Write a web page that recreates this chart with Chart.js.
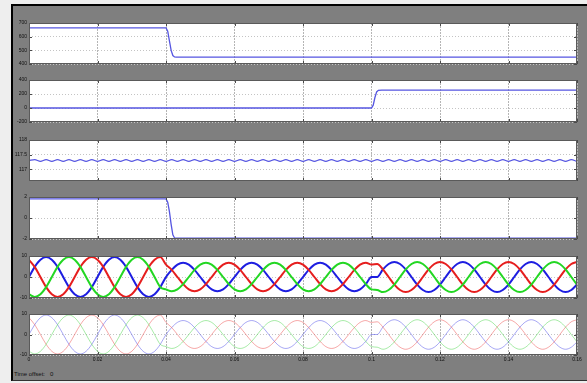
<!DOCTYPE html>
<html>
<head>
<meta charset="utf-8">
<script src="https://cdn.jsdelivr.net/npm/chart.js@4"></script>
<style>
  body { margin: 0; width: 587px; height: 383px; background: #eeeeee; position: relative; overflow: hidden; font-family: 'Liberation Sans', Arial, sans-serif; }
  #frame { position: absolute; left: 11px; top: 4px; width: 576px; height: 377px; box-sizing: border-box; background: #7f7f7f; border-top: 2px solid #000; border-left: 2px solid #000; border-bottom: 1px solid #333; }
  canvas { position: absolute; left: 0; }
  #offset { position: absolute; left: 14px; top: 371px; font-size: 6px; color: #111; }
</style>
</head>
<body>
<div id="frame"></div>
<div id="offset">Time offset:&nbsp;&nbsp; 0</div>
<script>
// time axis
const SAMPLE_STEP = 1 / 600; // wave samples every 1/600 s
const timeTicks = [0, 0.02, 0.04, 0.06, 0.08, 0.1, 0.12, 0.14, 0.16];
const timeLabels = ['0', '0.02', '0.04', '0.06', '0.08', '0.1', '0.12', '0.14', '0.16'];

// panel 1 (drops at 0.04 s)
const p1Time = [0, 0.04, 0.0405, 0.041, 0.0415, 0.042, 0.0425, 0.043, 0.16];
const p1Values = [665, 665, 640, 570, 500, 462, 452, 450, 450];
const p1Ticks = [400, 500, 600, 700];

// panel 2 (steps up at 0.1 s)
const p2Time = [0, 0.1, 0.1005, 0.101, 0.1015, 0.102, 0.103, 0.16];
const p2Values = [0, 0, 40, 150, 230, 252, 256, 256];
const p2Ticks = [-200, 0, 200, 400];

// panel 3 (dc level with ripple)
const p3StartTime = [0, 0];
const p3StartValues = [118, 117.3];
const p3Ripple = [
  117.30, 117.33, 117.27, 117.33, 117.27, 117.33, 117.27, 117.33, 117.27, 117.33, 117.27, 117.33,
  117.27, 117.33, 117.27, 117.33, 117.27, 117.33, 117.27, 117.33, 117.27, 117.33, 117.27, 117.33,
  117.27, 117.33, 117.27, 117.33, 117.27, 117.33, 117.27, 117.33, 117.27, 117.33, 117.27, 117.33,
  117.27, 117.33, 117.27, 117.33, 117.27, 117.33, 117.27, 117.33, 117.27, 117.33, 117.27, 117.33,
  117.27, 117.33, 117.27, 117.33, 117.27, 117.33, 117.27, 117.33, 117.27, 117.33, 117.27, 117.33,
  117.27, 117.33, 117.27, 117.33, 117.27, 117.33, 117.27, 117.33, 117.27, 117.33, 117.27, 117.33,
  117.27, 117.33, 117.27, 117.33, 117.27, 117.33, 117.27, 117.33, 117.27, 117.33, 117.27, 117.33,
  117.27, 117.33, 117.27, 117.33, 117.27, 117.33, 117.27, 117.33, 117.27, 117.33, 117.27, 117.33,
  117.27
];
const p3Ticks = [117, 117.5, 118];

// panel 4 (drops at 0.04 s)
const p4Time = [0, 0.04, 0.0405, 0.041, 0.0415, 0.042, 0.0425, 0.16];
const p4Values = [1.82, 1.82, 1.5, 0.6, -0.6, -1.6, -1.9, -1.92];
const p4Ticks = [-2, 0, 2];

// panels 5 and 6 (three phase waves, sampled every 1/600 s)
const phaseBlue = [
  0, 4.8, 8.2, 9.5, 8.2, 4.8, 0, -4.8, -8.2, -9.5, -8.2, -4.8,
  0, 4.8, 8.2, 9.5, 8.2, 4.8, 0, -4.8, -8.2, -9.5, -8.2, -4.8,
  0, 3.4, 5.9, 6.8, 5.9, 3.4, 0, -3.4, -5.9, -6.8, -5.9, -3.4,
  0, 3.4, 5.9, 6.8, 5.9, 3.4, 0, -3.4, -5.9, -6.8, -5.9, -3.4,
  0, 3.4, 5.9, 6.8, 5.9, 3.4, 0, -3.4, -5.9, -6.8, -5.9, -3.4,
  0,
  0, 3.6, 6.2, 7.2, 6.2, 3.6, 0, -3.6, -6.2, -7.2, -6.2, -3.6,
  0, 3.6, 6.2, 7.2, 6.2, 3.6, 0, -3.6, -6.2, -7.2, -6.2, -3.6,
  0, 3.6, 6.2, 7.2, 6.2, 3.6, 0, -3.6, -6.2, -7.2, -6.2, -3.6
];
const phaseRed = [
  8.2, 4.8, 0, -4.8, -8.2, -9.5, -8.2, -4.8, 0, 4.8, 8.2, 9.5,
  8.2, 4.8, 0, -4.8, -8.2, -9.5, -8.2, -4.8, 0, 4.8, 8.2, 9.5,
  5.9, 3.4, 0, -3.4, -5.9, -6.8, -5.9, -3.4, 0, 3.4, 5.9, 6.8,
  5.9, 3.4, 0, -3.4, -5.9, -6.8, -5.9, -3.4, 0, 3.4, 5.9, 6.8,
  5.9, 3.4, 0, -3.4, -5.9, -6.8, -5.9, -3.4, 0, 3.4, 5.9, 6.8,
  5.9,
  6.2, 3.6, 0, -3.6, -6.2, -7.2, -6.2, -3.6, 0, 3.6, 6.2, 7.2,
  6.2, 3.6, 0, -3.6, -6.2, -7.2, -6.2, -3.6, 0, 3.6, 6.2, 7.2,
  6.2, 3.6, 0, -3.6, -6.2, -7.2, -6.2, -3.6, 0, 3.6, 6.2, 7.2
];
const phaseGreen = [
  -8.2, -9.5, -8.2, -4.8, 0, 4.8, 8.2, 9.5, 8.2, 4.8, 0, -4.8,
  -8.2, -9.5, -8.2, -4.8, 0, 4.8, 8.2, 9.5, 8.2, 4.8, 0, -4.8,
  -5.9, -6.8, -5.9, -3.4, 0, 3.4, 5.9, 6.8, 5.9, 3.4, 0, -3.4,
  -5.9, -6.8, -5.9, -3.4, 0, 3.4, 5.9, 6.8, 5.9, 3.4, 0, -3.4,
  -5.9, -6.8, -5.9, -3.4, 0, 3.4, 5.9, 6.8, 5.9, 3.4, 0, -3.4,
  -5.9,
  -6.2, -7.2, -6.2, -3.6, 0, 3.6, 6.2, 7.2, 6.2, 3.6, 0, -3.6,
  -6.2, -7.2, -6.2, -3.6, 0, 3.6, 6.2, 7.2, 6.2, 3.6, 0, -3.6,
  -6.2, -7.2, -6.2, -3.6, 0, 3.6, 6.2, 7.2, 6.2, 3.6, 0, -3.6
];
const waveTicks = [-10, 0, 10];

// helpers
const toPoints = (times, values) => times.map((t, i) => ({ x: t, y: values[i] }));
const sampled = values => values.map((v, i) => ({ x: i * SAMPLE_STEP, y: v }));

const SCOPE_BLUE = 'rgb(85, 85, 225)';

function stepLine(data) {
    return { data: data, borderColor: SCOPE_BLUE, borderWidth: 1.3, tension: 0 };
}

function waveLine(data, color, width) {
    return { data: data, borderColor: color, borderWidth: width, cubicInterpolationMode: 'monotone' };
}

// white plot box with inward tick marks, like the scope window
const scopeFrame = {
    id: 'scopeFrame',
    beforeDraw(chart) {
        const { ctx, chartArea: a } = chart;
        ctx.save();
        ctx.fillStyle = '#ffffff';
        ctx.fillRect(a.left, a.top, a.width, a.height);
        ctx.restore();
    },
    afterDraw(chart) {
        const { ctx, chartArea: a, scales } = chart;
        ctx.save();
        ctx.strokeStyle = '#4a4a4a';
        ctx.lineWidth = 1;
        ctx.beginPath();
        scales.x.ticks.forEach(t => {
            const x = Math.round(scales.x.getPixelForValue(t.value)) + 0.5;
            ctx.moveTo(x, a.top); ctx.lineTo(x, a.top + 3);
            ctx.moveTo(x, a.bottom); ctx.lineTo(x, a.bottom - 3);
        });
        scales.y.ticks.forEach(t => {
            const y = Math.round(scales.y.getPixelForValue(t.value)) + 0.5;
            ctx.moveTo(a.left, y); ctx.lineTo(a.left + 3, y);
            ctx.moveTo(a.right, y); ctx.lineTo(a.right - 3, y);
        });
        ctx.stroke();
        ctx.strokeStyle = '#5a5a5a';
        ctx.strokeRect(a.left + 0.5, a.top + 0.5, a.width - 1, a.height - 1);
        ctx.restore();
    }
};

const panels = [
    { top: 23, bottom: 64, min: 400, max: 700, ticks: p1Ticks,
      datasets: [stepLine(toPoints(p1Time, p1Values))] },
    { top: 80, bottom: 122, min: -200, max: 400, ticks: p2Ticks,
      datasets: [stepLine(toPoints(p2Time, p2Values))] },
    { top: 140, bottom: 181, min: 116.6, max: 118, ticks: p3Ticks,
      datasets: [stepLine(toPoints(p3StartTime, p3StartValues)),
                 { data: sampled(p3Ripple), borderColor: SCOPE_BLUE, borderWidth: 1.1, cubicInterpolationMode: 'monotone' }] },
    { top: 197, bottom: 239, min: -2, max: 2, ticks: p4Ticks,
      datasets: [stepLine(toPoints(p4Time, p4Values))] },
    { top: 256, bottom: 298, min: -10, max: 10, ticks: waveTicks,
      datasets: [waveLine(sampled(phaseGreen), 'rgb(35, 215, 35)', 2),
                 waveLine(sampled(phaseRed), 'rgb(230, 30, 30)', 2),
                 waveLine(sampled(phaseBlue), 'rgb(30, 30, 225)', 2)] },
    { top: 314, bottom: 355, min: -10, max: 10, ticks: waveTicks, showTime: true,
      datasets: [waveLine(sampled(phaseGreen), 'rgba(60, 210, 60, 0.45)', 1),
                 waveLine(sampled(phaseRed), 'rgba(235, 60, 60, 0.45)', 1),
                 waveLine(sampled(phaseBlue), 'rgba(60, 60, 230, 0.45)', 1)] }
];

function makePanel(p) {
    const pad = 6;
    const axisHeight = p.showTime ? 10 : 0;
    const canvas = document.createElement('canvas');
    canvas.width = 587;
    canvas.height = p.bottom - p.top + pad * 2 + axisHeight;
    canvas.style.top = (p.top - pad) + 'px';
    document.body.appendChild(canvas);

    return new Chart(canvas, {
        type: 'line',
        data: { datasets: p.datasets },
        plugins: [scopeFrame],
        options: {
            responsive: false,
            animation: false,
            layout: { padding: { top: pad, bottom: pad, left: 0, right: 10 } },
            elements: { point: { radius: 0 } },
            plugins: { legend: { display: false }, tooltip: { enabled: false } },
            scales: {
                x: {
                    type: 'linear',
                    min: 0,
                    max: 0.16,
                    afterBuildTicks: s => { s.ticks = timeTicks.map(v => ({ value: v })); },
                    afterFit: s => { s.height = axisHeight; },
                    grid: { color: '#b5b5b5', lineWidth: 1, drawTicks: false },
                    border: { display: false, dash: [2, 1] },
                    ticks: {
                        display: !!p.showTime,
                        autoSkip: false,
                        maxRotation: 0,
                        padding: 2,
                        color: '#111',
                        font: { size: 5 },
                        callback: (v, i) => timeLabels[i]
                    }
                },
                y: {
                    min: p.min,
                    max: p.max,
                    afterBuildTicks: s => { s.ticks = p.ticks.map(v => ({ value: v })); },
                    afterFit: s => { s.width = 29; },
                    grid: { color: '#c4c4c4', lineWidth: 1, drawTicks: false },
                    border: { display: false, dash: [1, 2] },
                    ticks: {
                        padding: 2,
                        color: '#111',
                        font: { size: 5 },
                        callback: v => String(v)
                    }
                }
            }
        }
    });
}

panels.forEach(makePanel);
</script>
</body>
</html>
